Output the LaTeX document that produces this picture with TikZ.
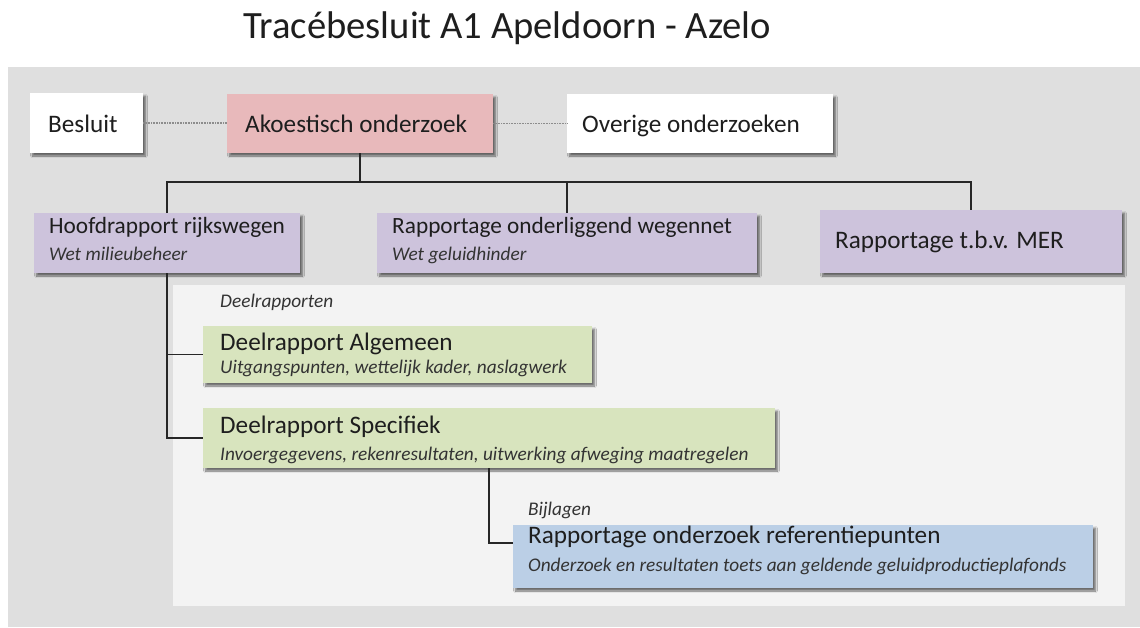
\documentclass[tikz,border=0pt]{standalone}
\usepackage{fontspec}
\setmainfont{Carlito}
\usetikzlibrary{shadows,shadows.blur}
\definecolor{outerbg}{HTML}{DFDFDF}
\definecolor{innerbg}{HTML}{F3F3F3}
\definecolor{pinkbox}{HTML}{E8B9BB}
\definecolor{purplebox}{HTML}{CDC3DC}
\definecolor{greenbox}{HTML}{D8E4BE}
\definecolor{bluebox}{HTML}{BBCFE6}
\definecolor{txt}{HTML}{1E1E1E}
\definecolor{subtxt}{HTML}{333333}
\tikzset{
  boxshape/.style={rectangle, draw=none, outer sep=0pt, inner sep=0pt, anchor=north west,
    blur shadow={shadow xshift=2.5pt, shadow yshift=-3pt, shadow blur steps=6, shadow opacity=55}},
  ttl/.style={anchor=base west, inner sep=0pt, text=txt, font=\fontsize{25.2}{30}\selectfont},
  ttlm/.style={anchor=base west, inner sep=0pt, text=txt, font=\fontsize{23.3}{28}\selectfont},
  sub/.style={anchor=base west, inner sep=0pt, text=subtxt, font=\fontsize{19.3}{23}\selectfont\itshape},
  dotline/.style={draw=gray!90, line width=1.8pt, dash pattern=on 0.8pt off 0.8pt},
  tree/.style={draw=black!85, line width=1.6pt}
}
\begin{document}
\begin{tikzpicture}[x=1pt,y=-1pt]
\useasboundingbox (0,0) rectangle (1140,627);
\fill[white] (0,0) rectangle (1140,627);
% title
\node[anchor=base west, inner sep=0pt, text=txt, font=\fontsize{38.6}{44}\selectfont] (title) at (243,38) {Tracébesluit A1 Apeldoorn - Azelo};
% panels
\fill[outerbg] (8,67) rectangle (1140,627);
\fill[innerbg] (173,285) rectangle (1125,606);
% top row
\node[boxshape, fill=white, minimum width=113pt, minimum height=60pt] (besluit) at (30,93) {};
\node[boxshape, fill=pinkbox, minimum width=266pt, minimum height=59pt] (ako) at (227,94) {};
\node[boxshape, fill=white, minimum width=266pt, minimum height=59pt] (overige) at (567,94) {};
\node[ttl] (tbesluit) at (48,132) {Besluit};
\node[ttl] (tako) at (245,132) {Akoestisch onderzoek};
\node[ttl] (toverige) at (582,132) {Overige onderzoeken};
% second row
\node[boxshape, fill=purplebox, minimum width=266pt, minimum height=60pt] (hoofd) at (34,213) {};
\node[boxshape, fill=purplebox, minimum width=380pt, minimum height=60pt] (onder) at (377,213) {};
\node[boxshape, fill=purplebox, minimum width=302pt, minimum height=63pt] (mer) at (820,210) {};
\node[ttlm] (thoofd) at (49,233) {Hoofdrapport rijkswegen};
\node[sub] (shoofd) at (49,260) {Wet milieubeheer};
\node[ttlm] (tonder) at (392,233) {Rapportage onderliggend wegennet};
\node[sub] (sonder) at (392,260) {Wet geluidhinder};
\node[ttl] (tmer) at (835,248) {Rapportage t.b.v. MER};
% deelrapporten
\node[sub] (ldeel) at (220,307) {Deelrapporten};
\node[boxshape, fill=greenbox, minimum width=389pt, minimum height=57pt] (alg) at (203,326) {};
\node[boxshape, fill=greenbox, minimum width=572pt, minimum height=60pt] (spec) at (203,408) {};
\node[ttl] (talg) at (220,350) {Deelrapport Algemeen};
\node[sub] (salg) at (220,373) {Uitgangspunten, wettelijk kader, naslagwerk};
\node[ttl] (tspec) at (220,433) {Deelrapport Specifiek};
\node[sub] (sspec) at (220,460) {Invoergegevens, rekenresultaten, uitwerking afweging maatregelen};
% bijlagen
\node[sub] (lbij) at (528,515) {Bijlagen};
\node[boxshape, fill=bluebox, minimum width=580pt, minimum height=63pt] (blue) at (513,525) {};
\node[ttl] (tblue) at (528,543) {Rapportage onderzoek referentiepunten};
\node[sub] (sblue) at (528,571) {Onderzoek en resultaten toets aan geldende geluidproductieplafonds};
% connectors
\draw[dotline] (besluit.east) -- (besluit.east -| ako.west);
\draw[dotline] (ako.east) -- (ako.east -| overige.west);
\coordinate (bus) at (0,182);
\draw[tree] (ako.south) -- (ako.south |- bus);
\draw[tree] (hoofd.north) -- (hoofd.north |- bus) -- (mer.north |- bus) -- (mer.north);
\draw[tree] (onder.north) -- (onder.north |- bus);
\draw[tree] (hoofd.south) |- (alg.west);
\draw[tree] (hoofd.south) |- (spec.west);
\draw[tree] (spec.south) |- ([yshift=13.5pt]blue.west);
\end{tikzpicture}
\end{document}
